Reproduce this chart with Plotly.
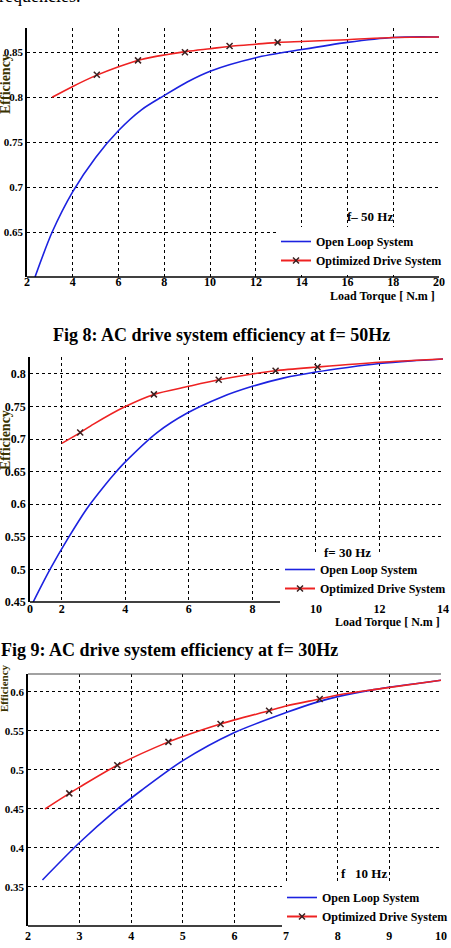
import plotly.graph_objects as go

W, H = 451, 948

# ---------------- data ----------------
# Fig 8 : f = 50 Hz
open_x_50 = [2.35, 3.1, 4.0, 5.0, 6.0, 7.0, 8.0, 9.0, 10.0, 12.0, 14.0, 16.0, 18.0, 20.0]
open_y_50 = [0.600, 0.650, 0.695, 0.733, 0.763, 0.786, 0.802, 0.817, 0.829, 0.844, 0.853, 0.861, 0.8665, 0.867]
opt_x_50 = [3.1, 4, 5, 6, 7, 8, 9, 10, 11, 12, 13, 14, 16, 18, 20]
opt_y_50 = [0.800, 0.812, 0.824, 0.834, 0.842, 0.847, 0.851, 0.854, 0.857, 0.859, 0.861, 0.862, 0.864, 0.8665, 0.867]
mk_x_50 = [5.05, 6.85, 8.9, 10.85, 12.95]
mk_y_50 = [0.825, 0.841, 0.850, 0.857, 0.861]

# Fig 9 : f = 30 Hz
open_x_30 = [1.1, 1.63, 2.2, 2.8, 3.37, 3.68, 4.0, 5.0, 5.95, 7.0, 8.0, 9.0, 10.0, 11.0, 12.0, 13.0, 14.0]
open_y_30 = [0.450, 0.500, 0.548, 0.594, 0.630, 0.648, 0.665, 0.710, 0.740, 0.764, 0.781, 0.794, 0.803, 0.810, 0.816, 0.820, 0.823]
opt_x_30 = [2.0, 2.58, 3.0, 4.0, 4.9, 6.0, 6.94, 8.0, 8.73, 10.05, 12.0, 14.0]
opt_y_30 = [0.6935, 0.710, 0.723, 0.750, 0.7686, 0.781, 0.791, 0.800, 0.805, 0.8106, 0.818, 0.823]
mk_x_30 = [2.58, 4.9, 6.94, 8.73, 10.05]
mk_y_30 = [0.710, 0.7686, 0.791, 0.805, 0.8106]

# Fig 10 : f = 10 Hz
open_x_10 = [2.28, 3.0, 3.66, 4.2, 5.0, 6.0, 7.0, 7.55, 8.0, 8.7, 10.0]
open_y_10 = [0.359, 0.407, 0.446, 0.474, 0.512, 0.548, 0.5735, 0.586, 0.594, 0.603, 0.615]
opt_x_10 = [2.33, 2.8, 3.0, 3.73, 4.72, 5.0, 5.73, 6.67, 7.0, 7.65, 8.0, 8.7, 10.0]
opt_y_10 = [0.450, 0.470, 0.478, 0.506, 0.536, 0.543, 0.559, 0.576, 0.582, 0.591, 0.596, 0.603, 0.615]
mk_x_10 = [2.8, 3.73, 4.72, 5.73, 6.67, 7.65]
mk_y_10 = [0.470, 0.506, 0.536, 0.559, 0.576, 0.591]

# ticks
xt_50 = [2, 4, 6, 8, 10, 12, 14, 16, 18, 20]
yt_50 = [0.65, 0.7, 0.75, 0.8, 0.85]
xt_30 = [1, 2, 4, 6, 8, 10, 12, 14]
xt_30_text = ["0", "2", "4", "6", "8", "10", "12", "14"]
yt_30 = [0.45, 0.5, 0.55, 0.6, 0.65, 0.7, 0.75, 0.8]
xt_10 = [2, 3, 4, 5, 6, 7, 8, 9, 10]
yt_10 = [0.35, 0.4, 0.45, 0.5, 0.55, 0.6]

series_names = ["Open Loop System", "Optimized Drive System"]
freq_labels = ["f\u2013 50 Hz", "f= 30 Hz", "f\u00a0\u00a0 10 Hz"]
captions = ["Fig 8: AC drive system efficiency at f= 50Hz",
            "Fig 9: AC drive system efficiency at f= 30Hz"]

# ---------------- helpers ----------------
def px(x):
    return x / W

def py(y):
    return 1 - y / H

SERIF = "Liberation Serif"
BLUE = "#1c22e0"
RED = "#ee2222"
MK = "#3a2020"

fig = go.Figure()

panels = [
    dict(ox=open_x_50, oy=open_y_50, rx=opt_x_50, ry=opt_y_50, mx=mk_x_50, my=mk_y_50, leg="legend"),
    dict(ox=open_x_30, oy=open_y_30, rx=opt_x_30, ry=opt_y_30, mx=mk_x_30, my=mk_y_30, leg="legend2"),
    dict(ox=open_x_10, oy=open_y_10, rx=opt_x_10, ry=opt_y_10, mx=mk_x_10, my=mk_y_10, leg="legend3"),
]

for i, p in enumerate(panels):
    xa = "x" if i == 0 else f"x{i+1}"
    ya = "y" if i == 0 else f"y{i+1}"
    fig.add_trace(go.Scatter(x=p["ox"], y=p["oy"], mode="lines", name=series_names[0],
                             line=dict(color=BLUE, width=1.6, shape="spline", smoothing=0.8),
                             xaxis=xa, yaxis=ya, legend=p["leg"]))
    fig.add_trace(go.Scatter(x=p["rx"], y=p["ry"], mode="lines", name=series_names[1],
                             line=dict(color=RED, width=1.6, shape="spline", smoothing=0.8),
                             xaxis=xa, yaxis=ya, showlegend=False))
    fig.add_trace(go.Scatter(x=p["mx"], y=p["my"], mode="markers", name=series_names[1],
                             marker=dict(symbol="x-thin-open", size=6, color=MK,
                                         line=dict(color=MK, width=1.5)),
                             xaxis=xa, yaxis=ya, showlegend=False))
    # legend-only entry for the line+x style
    fig.add_trace(go.Scatter(x=[None], y=[None], mode="lines+markers", name=series_names[1],
                             line=dict(color=RED, width=2),
                             marker=dict(symbol="x-thin-open", size=6, color=MK,
                                         line=dict(color=MK, width=1.5)),
                             xaxis=xa, yaxis=ya, legend=p["leg"]))

def tickfont(s):
    return dict(family=SERIF, size=s, color="black", weight="bold")

def axis_common(size):
    return dict(showgrid=True, gridcolor="black", griddash="dot", gridwidth=1,
                zeroline=False, ticks="", tickfont=tickfont(size), fixedrange=True)

# x axes: labels placed by a free position (line drawn as frame shape below)
layout = dict(
    width=W, height=H, margin=dict(l=0, r=0, t=0, b=0, autoexpand=False),
    paper_bgcolor="white", plot_bgcolor="white",
    xaxis=dict(domain=[px(27), px(439)], range=[2, 20], tickvals=xt_50, anchor="free",
               position=py(273), showline=False, **axis_common(12)),
    yaxis=dict(domain=[py(277), py(28)], range=[0.6, 0.877], tickvals=yt_50, anchor="x",
               showline=True, linecolor="black", linewidth=1.5, **axis_common(11)),
    xaxis2=dict(domain=[px(30), px(443)], range=[1, 14], tickvals=xt_30, ticktext=xt_30_text,
                anchor="free", position=py(600), showline=False, **axis_common(12)),
    yaxis2=dict(domain=[py(602), py(357)], range=[0.45, 0.826], tickvals=yt_30, anchor="x2",
                showline=True, linecolor="black", linewidth=1.5, **axis_common(12)),
    xaxis3=dict(domain=[px(28), px(441)], range=[2, 10], tickvals=xt_10, anchor="free",
                position=py(926.5), showline=False, **axis_common(12)),
    yaxis3=dict(domain=[py(926), py(674)], range=[0.30, 0.623], tickvals=yt_10, anchor="x3",
                showline=True, linecolor="black", linewidth=1.5, **axis_common(11)),
    showlegend=True,
)

legfont = dict(family=SERIF, size=12, color="black", weight="bold")
for key, (lx, ly) in zip(["legend", "legend2", "legend3"], [(276, 227), (280, 555), (282, 883)]):
    layout[key] = dict(x=px(lx), y=py(ly), xanchor="left", yanchor="top", bgcolor="white",
                       borderwidth=0, font=legfont, itemwidth=30, tracegroupgap=0,
                       traceorder="normal")

fig.update_layout(**layout)

# frame lines (bottom axis lines; top line on the last panel)
frame = []
for xr, yr in [("x", "y"), ("x2", "y2"), ("x3", "y3")]:
    frame.append(dict(type="line", xref=f"{xr} domain", yref=f"{yr} domain",
                      x0=0, x1=1, y0=0, y1=0, line=dict(color="black", width=1.5)))
frame.append(dict(type="line", xref="x3 domain", yref="y3 domain",
                  x0=0, x1=1, y0=1, y1=1, line=dict(color="#444", width=1.2)))
fig.update_layout(shapes=frame)

ann = []
# frequency labels
for txt, (x, y) in zip(freq_labels, [(370, 216), (347, 552), (364, 873)]):
    ann.append(dict(text=f"<b>{txt}</b>", x=px(x), y=py(y), xref="paper", yref="paper",
                    showarrow=False, font=dict(family=SERIF, size=13, color="black"),
                    xanchor="center", yanchor="middle"))
# x-axis titles
for (x, y) in [(437, 296), (442, 622)]:
    ann.append(dict(text="<b>Load Torque [ N.m ]</b>", x=px(x), y=py(y), xref="paper", yref="paper",
                    showarrow=False, font=dict(family=SERIF, size=12, color="black"),
                    xanchor="right", yanchor="middle"))
# y-axis titles
for (x, y, s) in [(5, 84, 14), (5, 440, 14), (4, 688, 11)]:
    ann.append(dict(text="<b>Efficiency</b>", x=px(x), y=py(y), xref="paper", yref="paper",
                    showarrow=False, textangle=-90, font=dict(family=SERIF, size=s, color="#3a3300"),
                    xanchor="center", yanchor="middle"))
# captions
ann.append(dict(text=f"<b>{captions[0]}</b>", x=px(221), y=py(335), xref="paper", yref="paper",
                showarrow=False, font=dict(family=SERIF, size=18, color="black"),
                xanchor="center", yanchor="middle"))
ann.append(dict(text=f"<b>{captions[1]}</b>", x=px(-1), y=py(650), xref="paper", yref="paper",
                showarrow=False, font=dict(family=SERIF, size=18, color="black"),
                xanchor="left", yanchor="middle"))
# clipped text at the very top
ann.append(dict(text="frequencies.", x=px(82), y=py(8), xref="paper", yref="paper",
                showarrow=False, font=dict(family=SERIF, size=18, color="black"),
                xanchor="right", yanchor="bottom"))

fig.update_layout(annotations=ann)

fig.write_html("out.html")
